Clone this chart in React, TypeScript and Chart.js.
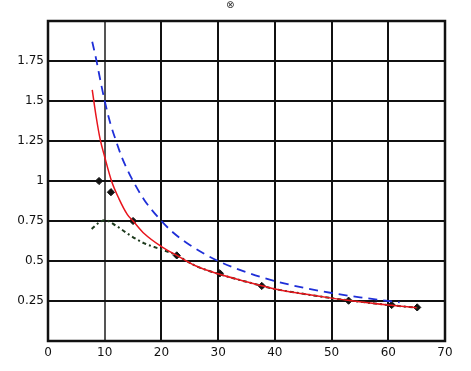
import React, { useEffect, useRef } from "react";
import { Chart, registerables } from "chart.js";

Chart.register(...registerables);

const blueX = [7.8, 8.5, 9, 10, 11, 12, 13, 14, 15, 17, 20, 22, 25, 30, 35, 40, 45, 50, 55, 60, 62];
const blueY = [1.87, 1.76, 1.67, 1.5, 1.36, 1.25, 1.15, 1.07, 1.0, 0.88, 0.75, 0.68, 0.6, 0.5, 0.43, 0.375, 0.333, 0.3, 0.273, 0.25, 0.242];

const redX = [7.8, 8.5, 9.2, 10, 11.2, 12.5, 14, 15, 17, 20, 22.7, 26, 30, 35, 40, 45, 50, 52.8, 60, 65];
const redY = [1.57, 1.4, 1.26, 1.15, 1.0, 0.89, 0.79, 0.75, 0.67, 0.59, 0.535, 0.47, 0.42, 0.37, 0.325, 0.295, 0.268, 0.255, 0.225, 0.208];

const blackX = [7.7, 9, 10, 12, 14.5, 17, 19.75, 22.7, 26, 30, 35, 40, 45, 50, 52.8, 60, 65.2];
const blackY = [0.7, 0.74, 0.755, 0.72, 0.66, 0.61, 0.575, 0.535, 0.47, 0.42, 0.37, 0.325, 0.295, 0.268, 0.255, 0.225, 0.208];

const pointX = [9, 11.1, 15, 22.7, 30.3, 37.7, 53, 60.6, 65.1];
const pointY = [1.0, 0.93, 0.75, 0.535, 0.423, 0.344, 0.252, 0.225, 0.21];

const yTicks = [0.25, 0.5, 0.75, 1, 1.25, 1.5, 1.75];

const zip = (xs: number[], ys: number[]) => xs.map((x, i) => ({ x, y: ys[i] }));

export default function App() {
  const ref = useRef<HTMLCanvasElement | null>(null);
  useEffect(() => {
    document.body.style.margin = "0";
    const font = { family: "DejaVu Sans", size: 12 };
    const chart = new Chart(ref.current!, {
      type: "scatter",
      data: {
        datasets: [
          {
            data: zip(blueX, blueY),
            showLine: true,
            borderColor: "#1f2fd8",
            borderWidth: 1.8,
            borderDash: [9, 6],
            pointRadius: 0,
            cubicInterpolationMode: "monotone",
          },
          {
            data: zip(redX, redY),
            showLine: true,
            borderColor: "#e8141c",
            borderWidth: 1.5,
            pointRadius: 0,
            cubicInterpolationMode: "monotone",
          },
          {
            data: zip(blackX, blackY),
            showLine: true,
            borderColor: "#1d3a1d",
            borderWidth: 2,
            borderDash: [4, 3, 2, 3],
            pointRadius: 0,
            cubicInterpolationMode: "monotone",
          },
          {
            data: zip(pointX, pointY),
            showLine: false,
            pointStyle: "rectRot",
            pointRadius: 3.6,
            backgroundColor: "#111",
            borderColor: "#111",
          },
        ],
      },
      options: {
        animation: false,
        responsive: false,
        maintainAspectRatio: false,
        layout: { padding: { top: 21, right: 26, left: 0, bottom: 0 } },
        plugins: { legend: { display: false }, tooltip: { enabled: false } },
        scales: {
          x: {
            type: "linear",
            min: 0,
            max: 70,
            ticks: { stepSize: 10, color: "#111", font, padding: 5 },
            grid: {
              color: (c: any) => (c.tick && c.tick.value === 10 ? "#555" : "#111"),
              lineWidth: 2,
              drawTicks: false,
            },
            border: { color: "#111", width: 2 },
            afterFit: (s: any) => {
              s.height = 30;
            },
          },
          y: {
            type: "linear",
            min: 0,
            max: 2,
            afterBuildTicks: (s: any) => {
              s.ticks = [0, ...yTicks, 2].map((v) => ({ value: v }));
            },
            ticks: {
              color: "#111",
              font,
              padding: 4,
              callback: (v: any) => (yTicks.includes(Number(v)) ? String(v) : ""),
            },
            grid: { color: "#111", lineWidth: 2, drawTicks: false },
            border: { color: "#111", width: 2 },
            afterFit: (s: any) => {
              s.width = 48;
            },
          },
        },
      },
      plugins: [
        {
          id: "frame",
          afterDraw: (c: any) => {
            const { left, right, top, bottom } = c.chartArea;
            const ctx = c.ctx;
            ctx.save();
            ctx.strokeStyle = "#111";
            ctx.lineWidth = 2.5;
            ctx.strokeRect(left, top, right - left, bottom - top);
            ctx.restore();
          },
        },
      ],
    } as any);
    return () => chart.destroy();
  }, []);
  return (
    <div style={{ position: "relative", width: 471, height: 371 }}>
      <canvas ref={ref} width={471} height={371} style={{ display: "block" }} />
      <span
        style={{
          position: "absolute",
          left: 226,
          top: -1,
          fontSize: 10,
          fontFamily: "DejaVu Sans",
          color: "#333",
        }}
      >
        ⊗
      </span>
    </div>
  );
}
